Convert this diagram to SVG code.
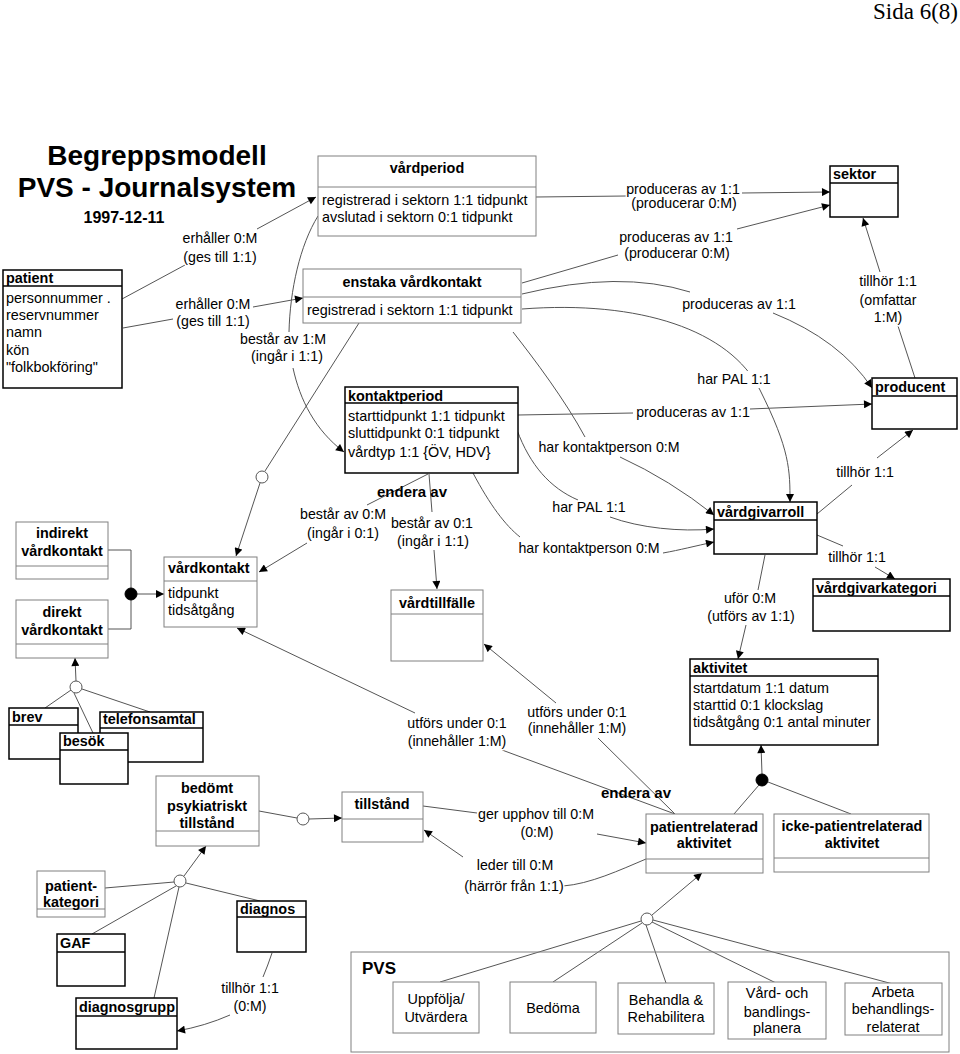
<svg xmlns="http://www.w3.org/2000/svg" width="960" height="1054" viewBox="0 0 960 1054">
<defs>
<marker id="ar" viewBox="0 0 10 10" refX="10" refY="5" markerWidth="9" markerHeight="8" markerUnits="userSpaceOnUse" orient="auto">
<path d="M0,0 L10,5 L0,10 z" fill="#000"/>
</marker>
<style>
text{font-family:"Liberation Sans",Arial,sans-serif;fill:#000}
.t{font-size:14.4px;font-weight:bold}
.a{font-size:14.4px}
.c{text-anchor:middle}
.l{font-size:14.2px;text-anchor:middle;paint-order:stroke;stroke:#fff;stroke-width:3px;stroke-linejoin:round}
.lb{font-size:15px;font-weight:bold;text-anchor:middle}
.bk{fill:#fff;stroke:#000;stroke-width:1.5}
.gy{fill:#fff;stroke:#808080;stroke-width:1}
.ln{fill:none;stroke:#555;stroke-width:1}
.ah{marker-end:url(#ar)}
.oc{fill:#fff;stroke:#555;stroke-width:1}
.fc{fill:#000;stroke:#000}
</style>
</defs>
<rect width="960" height="1054" fill="#fff"/>
<text x="958" y="19" style="font-family:'Liberation Serif','Times New Roman',serif;font-size:23px" text-anchor="end">Sida 6(8)</text>
<g id="title">
<text x="157" y="165" class="c" style="font-size:28px;font-weight:bold">Begreppsmodell</text>
<text x="157" y="197" class="c" style="font-size:28px;font-weight:bold">PVS - Journalsystem</text>
<text x="124" y="223" class="c" style="font-size:16px;font-weight:bold">1997-12-11</text>
</g>
<g id="connectors">
<path class="ln" d="M122,299 L185,265"/>
<path class="ln ah" d="M257,229 L316,197"/>
<path class="ln" d="M123,328 L173,319"/>
<path class="ln ah" d="M253,307 L303,298"/>
<path class="ln" d="M318,216 C300,245 290,290 289,332"/>
<path class="ln ah" d="M293,368 C300,400 315,430 344,452"/>
<path class="ln" d="M359,323 L265,471"/>
<circle class="oc" cx="262" cy="477" r="6"/>
<path class="ln ah" d="M260,483 L236,556"/>
<path class="ln" d="M428,474 L367,505"/>
<path class="ln ah" d="M307,543 L259,572"/>
<path class="ln" d="M429,474 L432,512"/>
<path class="ln ah" d="M434,550 L437,589"/>
<path class="ln" d="M536,197 L626,196"/>
<path class="ln ah" d="M742,193 L830,192"/>
<path class="ln" d="M522,283 L618,255"/>
<path class="ln ah" d="M737,229 L830,205"/>
<path class="ln" d="M522,294 Q620,270 690,292"/>
<path class="ln ah" d="M773,313 Q840,340 872,388"/>
<path class="ln ah" d="M522,309 C640,300 730,330 760,390 S790,470 790,502"/>
<path class="ln" d="M518,415 L633,413"/>
<path class="ln ah" d="M750,409 L872,404"/>
<path class="ln" d="M517,430 C530,465 550,488 578,500"/>
<path class="ln ah" d="M610,517 C640,528 680,532 714,529"/>
<path class="ln" d="M513,332 C535,360 565,400 585,437"/>
<path class="ln ah" d="M620,457 Q670,480 714,515"/>
<path class="ln" d="M473,473 C490,505 505,525 520,537"/>
<path class="ln ah" d="M663,553 C680,550 695,546 714,542"/>
<path class="ln" d="M817,514 L852,485"/>
<path class="ln ah" d="M877,458 L913,430"/>
<path class="ln" d="M915,378 L897,323"/>
<path class="ln ah" d="M880,272 L863,218"/>
<path class="ln" d="M817,535 L843,546"/>
<path class="ln ah" d="M875,567 L895,579"/>
<path class="ln" d="M765,555 L758,590"/>
<path class="ln ah" d="M746,625 L738,659"/>
<path class="ln ah" d="M415,713 L237,628"/>
<path class="ln" d="M502,750 L675,814"/>
<path class="ln ah" d="M556,703 L484,644"/>
<path class="ln" d="M598,738 L675,814"/>
<path class="ln" d="M423,806 L477,813"/>
<path class="ln ah" d="M597,834 L646,843"/>
<path class="ln" d="M646,859 C620,870 590,884 563,886"/>
<path class="ln ah" d="M463,857 L424,830"/>
<path class="ln" d="M259,811 L297,818"/>
<circle class="oc" cx="303" cy="819" r="6"/>
<path class="ln ah" d="M309,819 L342,818"/>
<path class="ln ah" d="M184,876 L206,846"/>
<path class="ln" d="M174,882 L105,888"/>
<path class="ln" d="M176,886 L92,934"/>
<path class="ln" d="M179,887 L154,998"/>
<path class="ln" d="M186,883 L260,901"/>
<circle class="oc" cx="180" cy="881" r="6"/>
<path class="ln" d="M272,953 Q268,965 263,977"/>
<path class="ln ah" d="M230,1015 Q205,1026 177,1031"/>
<path class="ln ah" d="M652,915 L702,873"/>
<path class="ln" d="M641,921 L440,982"/>
<path class="ln" d="M642,923 L553,982"/>
<path class="ln" d="M646,925 L666,983"/>
<path class="ln" d="M652,922 L776,983"/>
<path class="ln" d="M653,920 L893,984"/>
<circle class="oc" cx="647" cy="919" r="6"/>
<path class="ln ah" d="M762,774 L761,745"/>
<path class="ln" d="M759,785 L734,814"/>
<path class="ln" d="M768,782 L851,814"/>
<circle class="fc" cx="762" cy="780" r="6"/>
<path class="ln" d="M108,550 L131,550 L131,629 L108,629"/>
<path class="ln ah" d="M137,594 L164,594"/>
<circle class="fc" cx="131" cy="594" r="6"/>
<path class="ln ah" d="M76,681 L75,658"/>
<path class="ln" d="M71,690 L45,708"/>
<path class="ln" d="M74,693 L93,733"/>
<path class="ln" d="M82,689 L150,712"/>
<circle class="oc" cx="76" cy="687" r="6"/>
</g>
<g id="labels">
<text class="l" x="220" y="243">erhåller 0:M</text>
<text class="l" x="220" y="262">(ges till 1:1)</text>
<text class="l" x="213" y="309">erhåller 0:M</text>
<text class="l" x="213" y="326">(ges till 1:1)</text>
<text class="l" x="283" y="344">består av 1:M</text>
<text class="l" x="287" y="361">(ingår i 1:1)</text>
<text class="l" x="683" y="194">produceras av 1:1</text>
<text class="l" x="684" y="208">(producerar 0:M)</text>
<text class="l" x="676" y="242">produceras av 1:1</text>
<text class="l" x="677" y="258">(producerar 0:M)</text>
<text class="l" x="739" y="309">produceras av 1:1</text>
<text class="l" x="888" y="286">tillhör 1:1</text>
<text class="l" x="888" y="305">(omfattar</text>
<text class="l" x="888" y="322">1:M)</text>
<rect x="696" y="371" width="80" height="17" fill="#fff"/>
<text class="l" x="734" y="384">har PAL 1:1</text>
<text class="l" x="693" y="417">produceras av 1:1</text>
<text class="l" x="609" y="452">har kontaktperson 0:M</text>
<text class="l" x="865" y="477">tillhör 1:1</text>
<text class="lb" x="412" y="497">endera av</text>
<text class="l" x="343" y="519">består av 0:M</text>
<text class="l" x="343" y="538">(ingår i 0:1)</text>
<text class="l" x="432" y="528">består av 0:1</text>
<text class="l" x="433" y="546">(ingår i 1:1)</text>
<text class="l" x="589" y="512">har PAL 1:1</text>
<text class="l" x="589" y="553">har kontaktperson 0:M</text>
<text class="l" x="857" y="562">tillhör 1:1</text>
<text class="l" x="750" y="603">uför 0:M</text>
<text class="l" x="751" y="621">(utförs av 1:1)</text>
<text class="l" x="457" y="728">utförs under 0:1</text>
<text class="l" x="457" y="746">(innehåller 1:M)</text>
<text class="l" x="577" y="717">utförs under 0:1</text>
<text class="l" x="577" y="733">(innehåller 1:M)</text>
<text class="lb" x="636" y="798">endera av</text>
<text class="l" x="536" y="819">ger upphov till 0:M</text>
<text class="l" x="537" y="837">(0:M)</text>
<text class="l" x="515" y="870">leder till 0:M</text>
<text class="l" x="514" y="891">(härrör från 1:1)</text>
<text class="l" x="250" y="993">tillhör 1:1</text>
<text class="l" x="250" y="1011">(0:M)</text>
</g>
<g id="patient">
<rect class="bk" x="3" y="270" width="119" height="118"/>
<line x1="3" y1="286" x2="122" y2="286" stroke="#000" stroke-width="1.5"/>
<text class="t" x="6" y="283">patient</text>
<text class="a" x="6" y="303">personnummer .</text>
<text class="a" x="6" y="320">reservnummer</text>
<text class="a" x="6" y="337">namn</text>
<text class="a" x="6" y="355">kön</text>
<text class="a" x="6" y="372">"folkbokföring"</text>
</g>
<g id="vardperiod">
<rect class="gy" x="318" y="156" width="218" height="80"/>
<line x1="318" y1="187" x2="536" y2="187" stroke="#808080"/>
<text class="t c" x="427" y="173">vårdperiod</text>
<text class="a" x="322" y="205">registrerad i sektorn 1:1 tidpunkt</text>
<text class="a" x="322" y="222">avslutad i sektorn 0:1 tidpunkt</text>
</g>
<g id="enstaka">
<rect class="gy" x="303" y="269" width="218" height="54"/>
<line x1="303" y1="297" x2="521" y2="297" stroke="#808080"/>
<text class="t c" x="412" y="287">enstaka vårdkontakt</text>
<text class="a" x="307" y="315">registrerad i sektorn 1:1 tidpunkt</text>
</g>
<g id="kontaktperiod">
<rect class="bk" x="345" y="387" width="173" height="86"/>
<line x1="345" y1="403" x2="518" y2="403" stroke="#000" stroke-width="1.5"/>
<text class="t" x="348" y="401">kontaktperiod</text>
<text class="a" x="348" y="421">starttidpunkt 1:1 tidpunkt</text>
<text class="a" x="348" y="438">sluttidpunkt 0:1 tidpunkt</text>
<text class="a" x="348" y="457">vårdtyp 1:1 {ÖV, HDV}</text>
</g>
<g id="sektor">
<rect class="bk" x="830" y="166" width="68" height="51"/>
<line x1="830" y1="183" x2="898" y2="183" stroke="#000" stroke-width="1.5"/>
<text class="t" x="833" y="179">sektor</text>
</g>
<g id="producent">
<rect class="bk" x="872" y="378" width="85" height="51"/>
<line x1="872" y1="396" x2="957" y2="396" stroke="#000" stroke-width="1.5"/>
<text class="t" x="875" y="392">producent</text>
</g>
<g id="vardgivarroll">
<rect class="bk" x="714" y="502" width="103" height="52"/>
<line x1="714" y1="520" x2="817" y2="520" stroke="#000" stroke-width="1.5"/>
<text class="t" x="717" y="517">vårdgivarroll</text>
</g>
<g id="vardgivarkategori">
<rect class="bk" x="813" y="579" width="137" height="52"/>
<line x1="813" y1="596" x2="950" y2="596" stroke="#000" stroke-width="1.5"/>
<text class="t" x="816" y="593">vårdgivarkategori</text>
</g>
<g id="aktivitet">
<rect class="bk" x="690" y="659" width="188" height="86"/>
<line x1="690" y1="676" x2="878" y2="676" stroke="#000" stroke-width="1.5"/>
<text class="t" x="693" y="673">aktivitet</text>
<text class="a" x="693" y="693">startdatum 1:1 datum</text>
<text class="a" x="693" y="710">starttid 0:1 klockslag</text>
<text class="a" x="693" y="727">tidsåtgång 0:1 antal minuter</text>
</g>
<g id="vardtillfalle">
<rect class="gy" x="391" y="590" width="92" height="71"/>
<line x1="391" y1="614" x2="483" y2="614" stroke="#808080"/>
<text class="t c" x="437" y="608">vårdtillfälle</text>
</g>
<g id="vardkontakt">
<rect class="gy" x="164" y="557" width="93" height="70"/>
<line x1="164" y1="581" x2="257" y2="581" stroke="#808080"/>
<text class="t" x="168" y="573">vårdkontakt</text>
<text class="a" x="168" y="598">tidpunkt</text>
<text class="a" x="168" y="615">tidsåtgång</text>
</g>
<g id="indirekt">
<rect class="gy" x="16" y="522" width="92" height="57"/>
<line x1="16" y1="566" x2="108" y2="566" stroke="#808080"/>
<text class="t c" x="62" y="538">indirekt</text>
<text class="t c" x="62" y="556">vårdkontakt</text>
</g>
<g id="direkt">
<rect class="gy" x="16" y="600" width="92" height="58"/>
<line x1="16" y1="644" x2="108" y2="644" stroke="#808080"/>
<text class="t c" x="62" y="617">direkt</text>
<text class="t c" x="62" y="635">vårdkontakt</text>
</g>
<g id="brev">
<rect class="bk" x="9" y="708" width="69" height="51"/>
<line x1="9" y1="725" x2="78" y2="725" stroke="#000" stroke-width="1.5"/>
<text class="t" x="12" y="722">brev</text>
</g>
<g id="telefonsamtal">
<rect class="bk" x="100" y="712" width="103" height="50"/>
<line x1="100" y1="728" x2="203" y2="728" stroke="#000" stroke-width="1.5"/>
<text class="t" x="103" y="724">telefonsamtal</text>
</g>
<g id="besok">
<rect class="bk" x="60" y="733" width="68" height="51"/>
<line x1="60" y1="750" x2="128" y2="750" stroke="#000" stroke-width="1.5"/>
<text class="t" x="63" y="746">besök</text>
</g>
<g id="bedomt">
<rect class="gy" x="156" y="776" width="103" height="70"/>
<line x1="156" y1="831" x2="259" y2="831" stroke="#808080"/>
<text class="t c" x="207" y="793">bedömt</text>
<text class="t c" x="207" y="811">psykiatriskt</text>
<text class="t c" x="207" y="828">tillstånd</text>
</g>
<g id="tillstand">
<rect class="gy" x="342" y="792" width="81" height="50"/>
<line x1="342" y1="819" x2="423" y2="819" stroke="#808080"/>
<text class="t c" x="382" y="809">tillstånd</text>
</g>
<g id="patientkategori">
<rect class="gy" x="37" y="871" width="68" height="46"/>
<line x1="37" y1="909" x2="105" y2="909" stroke="#808080"/>
<text class="t c" x="71" y="891">patient-</text>
<text class="t c" x="71" y="907">kategori</text>
</g>
<g id="diagnos">
<rect class="bk" x="237" y="901" width="69" height="51"/>
<line x1="237" y1="917" x2="306" y2="917" stroke="#000" stroke-width="1.5"/>
<text class="t" x="240" y="914">diagnos</text>
</g>
<g id="gaf">
<rect class="bk" x="57" y="934" width="68" height="52"/>
<line x1="57" y1="952" x2="125" y2="952" stroke="#000" stroke-width="1.5"/>
<text class="t" x="60" y="948">GAF</text>
</g>
<g id="diagnosgrupp">
<rect class="bk" x="76" y="998" width="101" height="51"/>
<line x1="76" y1="1016" x2="177" y2="1016" stroke="#000" stroke-width="1.5"/>
<text class="t" x="79" y="1012">diagnosgrupp</text>
</g>
<g id="patientrelaterad">
<rect class="gy" x="646" y="814" width="117" height="59"/>
<line x1="646" y1="859" x2="763" y2="859" stroke="#808080"/>
<text class="t c" x="704" y="832">patientrelaterad</text>
<text class="t c" x="704" y="848">aktivitet</text>
</g>
<g id="ickepatientrelaterad">
<rect class="gy" x="774" y="814" width="155" height="58"/>
<line x1="774" y1="858" x2="929" y2="858" stroke="#808080"/>
<text class="t c" x="852" y="831">icke-patientrelaterad</text>
<text class="t c" x="852" y="848">aktivitet</text>
</g>
<g id="pvs">
<rect class="gy" x="351" y="952" width="598" height="100" fill="none" style="fill:none"/>
<text x="362" y="974" style="font-size:17px;font-weight:bold">PVS</text>
</g>
<g id="uppfolja">
<rect class="gy" x="393" y="982" width="86" height="51"/>
<text class="a c" x="436" y="1004">Uppfölja/</text>
<text class="a c" x="436" y="1022">Utvärdera</text>
</g>
<g id="bedoma">
<rect class="gy" x="510" y="982" width="86" height="51"/>
<text class="a c" x="553" y="1013">Bedöma</text>
</g>
<g id="behandla">
<rect class="gy" x="618" y="983" width="96" height="51"/>
<text class="a c" x="666" y="1005">Behandla &amp;</text>
<text class="a c" x="666" y="1022">Rehabilitera</text>
</g>
<g id="vardplanera">
<rect class="gy" x="728" y="982" width="98" height="57"/>
<text class="a c" x="777" y="998">Vård- och</text>
<text class="a c" x="777" y="1017">bandlings-</text>
<text class="a c" x="777" y="1033">planera</text>
</g>
<g id="arbeta">
<rect class="gy" x="845" y="983" width="97" height="52"/>
<text class="a c" x="893" y="997">Arbeta</text>
<text class="a c" x="893" y="1014">behandlings-</text>
<text class="a c" x="893" y="1032">relaterat</text>
</g>
</svg>
